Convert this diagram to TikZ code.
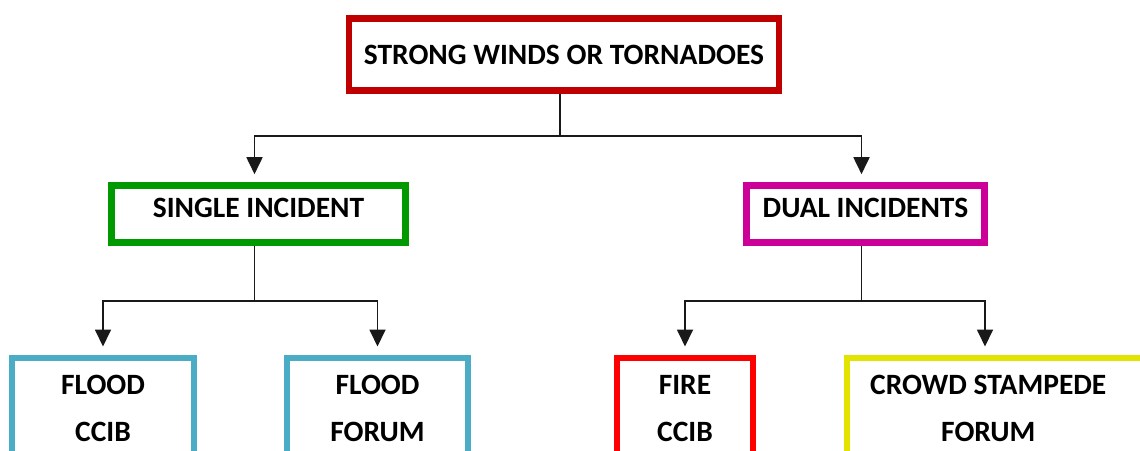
\documentclass[tikz,border=0pt]{standalone}
\usepackage{fontspec}
\setmainfont{Carlito}
\usetikzlibrary{arrows.meta}
\definecolor{windRed}{HTML}{C00000}
\definecolor{singleGreen}{HTML}{009900}
\definecolor{dualMagenta}{HTML}{CC0099}
\definecolor{siteBlue}{HTML}{4BACC6}
\definecolor{fireRed}{HTML}{FF0000}
\definecolor{crowdYellow}{HTML}{E3E300}
\newcommand{\crowdCell}[1]{\makebox[340pt][l]{\makebox[283pt][c]{#1}}}

\begin{document}
\begin{tikzpicture}[x=1pt,y=-1pt,
  box/.style={draw, line width=6.6pt, fill=white, inner xsep=0pt, inner ysep=0pt, align=center, font={\bfseries\fontsize{29.5}{47}\selectfont}},
  midbox/.style={box, minimum height=57pt, text depth=12pt},
  leafbox/.style={box, anchor=north, text height=84pt, text depth=30pt},
  flow/.style={draw=black!90, line width=1.8pt, -{Triangle[width=16pt,length=17pt]}, shorten >=8pt}]
\clip (0,0) rectangle (1140,450);
\useasboundingbox (0,0) rectangle (1140,450);
\node[box, draw=windRed, minimum width=430pt, minimum height=72pt] (wind) at (564,54.5) {STRONG WINDS OR TORNADOES};
\node[midbox, draw=singleGreen, minimum width=294pt] (single) at (258.5,214) {SINGLE INCIDENT};
\node[midbox, draw=dualMagenta, minimum width=238pt] (dual) at (865.5,214) {DUAL INCIDENTS};
\node[leafbox, draw=siteBlue, minimum width=182pt] (floodccib) at (103,354.5) {FLOOD\\CCIB};
\node[leafbox, draw=siteBlue, minimum width=181pt] (floodforum) at (377.5,354.5) {FLOOD\\FORUM};
\node[leafbox, draw=fireRed, minimum width=136pt] (fireccib) at (685,354.5) {FIRE\\CCIB};
\node[leafbox, draw=crowdYellow, anchor=north west] (crowdforum) at (843.5,354.5) {\crowdCell{CROWD STAMPEDE}\\\crowdCell{FORUM}};
\draw[flow] ([xshift=-4pt]wind.south) -- ++(0,42) -| ([xshift=-4pt]single.north);
\draw[flow] ([xshift=-4pt]wind.south) -- ++(0,42) -| ([xshift=-4pt]dual.north);
\draw[flow] ([xshift=-4pt]single.south) -- ++(0,55) -| (floodccib.north);
\draw[flow] ([xshift=-4pt]single.south) -- ++(0,55) -| (floodforum.north);
\draw[flow] ([xshift=-4pt]dual.south) -- ++(0,55) -| (fireccib.north);
\draw[flow] ([xshift=-4pt]dual.south) -- ++(0,55) -| ([xshift=141.5pt]crowdforum.north west);
\end{tikzpicture}
\end{document}
